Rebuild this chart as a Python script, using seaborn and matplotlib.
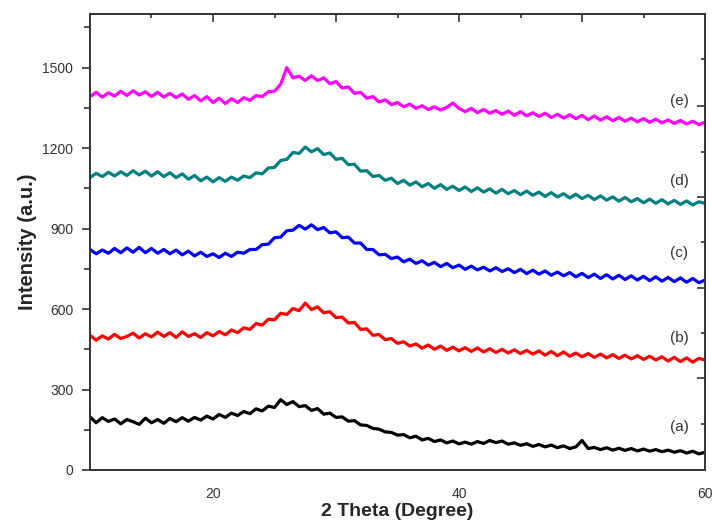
import numpy as np
import pandas as pd
import matplotlib
matplotlib.use('Agg')
import matplotlib.pyplot as plt
import seaborn as sns

# 2theta sampling grid (degrees)
two_theta = np.arange(10.0, 60.01, 0.5)

# intensities (a.u.), one list per sample
sample_a = [198, 176, 195, 181, 190, 172, 188, 180, 170, 193,
            176, 188, 174, 192, 180, 195, 182, 196, 186, 201,
            190, 207, 196, 212, 203, 218, 210, 228, 220, 238,
            233, 262, 244, 255, 236, 240, 222, 229, 208, 212,
            196, 198, 182, 184, 168, 166, 155, 152, 142, 140,
            130, 132, 120, 126, 112, 118, 106, 112, 101, 108,
            97, 104, 96, 106, 99, 110, 102, 108, 96, 101,
            92, 98, 88, 95, 86, 93, 83, 90, 80, 86,
            110, 80, 84, 76, 83, 74, 81, 73, 80, 71,
            78, 70, 76, 68, 74, 66, 72, 63, 70, 60,
            66]
sample_b = [502, 484, 500, 488, 506, 490, 498, 510, 492, 508,
            496, 514, 498, 512, 494, 515, 498, 508, 494, 512,
            500, 516, 504, 522, 512, 530, 524, 546, 540, 562,
            560, 584, 580, 602, 594, 622, 598, 608, 586, 590,
            568, 570, 548, 550, 524, 526, 502, 505, 486, 490,
            472, 478, 462, 470, 454, 466, 450, 462, 446, 458,
            444, 456, 442, 455, 440, 452, 438, 450, 436, 448,
            434, 446, 432, 444, 428, 442, 426, 440, 424, 436,
            422, 434, 420, 432, 418, 430, 416, 428, 414, 426,
            412, 424, 410, 422, 406, 420, 404, 418, 402, 416,
            410]
sample_c = [822, 806, 820, 808, 826, 810, 828, 812, 830, 810,
            826, 808, 822, 806, 820, 802, 816, 798, 812, 796,
            806, 792, 808, 796, 812, 808, 822, 822, 840, 842,
            866, 868, 892, 894, 912, 898, 914, 896, 904, 884,
            888, 866, 868, 846, 846, 822, 822, 802, 804, 788,
            794, 776, 786, 770, 780, 764, 774, 758, 770, 754,
            764, 748, 760, 746, 756, 742, 754, 740, 750, 736,
            748, 732, 745, 730, 742, 726, 738, 724, 736, 720,
            733, 717, 730, 714, 728, 712, 726, 710, 724, 708,
            722, 706, 720, 704, 718, 702, 716, 700, 714, 698,
            708]
sample_d = [1090, 1106, 1094, 1110, 1096, 1112, 1098, 1116, 1100, 1114,
            1096, 1112, 1094, 1108, 1090, 1104, 1084, 1098, 1078, 1092,
            1074, 1090, 1076, 1092, 1080, 1096, 1090, 1108, 1104, 1126,
            1128, 1154, 1158, 1184, 1180, 1204, 1186, 1198, 1176, 1182,
            1158, 1162, 1138, 1140, 1114, 1116, 1094, 1098, 1080, 1088,
            1068, 1080, 1062, 1074, 1056, 1068, 1050, 1064, 1046, 1058,
            1042, 1055, 1038, 1052, 1036, 1048, 1032, 1046, 1030, 1042,
            1026, 1040, 1024, 1036, 1020, 1034, 1018, 1030, 1014, 1028,
            1012, 1024, 1008, 1022, 1006, 1018, 1002, 1016, 1000, 1012,
            996, 1010, 994, 1008, 992, 1005, 990, 1003, 988, 1000,
            994]
sample_e = [1392, 1408, 1390, 1406, 1394, 1412, 1396, 1414, 1398, 1410,
            1392, 1408, 1390, 1404, 1388, 1402, 1382, 1396, 1376, 1392,
            1370, 1386, 1366, 1384, 1370, 1388, 1378, 1396, 1392, 1410,
            1412, 1438, 1500, 1462, 1468, 1452, 1470, 1452, 1462, 1440,
            1448, 1424, 1428, 1404, 1408, 1386, 1392, 1372, 1380, 1362,
            1370, 1354, 1364, 1348, 1358, 1344, 1354, 1342, 1352, 1368,
            1348, 1336, 1348, 1332, 1344, 1330, 1340, 1326, 1338, 1322,
            1336, 1320, 1332, 1318, 1330, 1314, 1326, 1312, 1324, 1310,
            1322, 1306, 1320, 1304, 1317, 1302, 1314, 1300, 1312, 1298,
            1310, 1296, 1308, 1294, 1305, 1292, 1303, 1290, 1300, 1288,
            1296]

sample_names = ['(a)', '(b)', '(c)', '(d)', '(e)']
sample_colors = ['#000000', '#ff0000', '#0000ff', '#008080', '#ff00ff']
label_y = [160, 491, 808, 1079, 1377]

# long-form table for seaborn
df = pd.concat([
    pd.DataFrame({'two_theta': two_theta, 'intensity': vals, 'sample': name})
    for name, vals in zip(sample_names, [sample_a, sample_b, sample_c, sample_d, sample_e])
])

sns.set_style('white')
plt.rcParams['font.family'] = ['Liberation Sans', 'DejaVu Sans']

fig = plt.figure(figsize=(7.12, 5.24), dpi=100)
ax = fig.add_axes([0.1264, 0.1031, 0.8638, 0.8702])

sns.lineplot(data=df, x='two_theta', y='intensity', hue='sample',
             palette=dict(zip(sample_names, sample_colors)),
             estimator=None, sort=False, legend=False, linewidth=2.3, ax=ax)

for name, y in zip(sample_names, label_y):
    ax.text(57.9, y, name, fontsize=11, color='#333333', ha='center', va='center')

ax.set_xlim(10, 60)
ax.set_ylim(0, 1700)
ax.set_xticks([10, 20, 30, 40, 50, 60])
ax.set_xticklabels(['', '20', '', '40', '', '60'])
ax.set_yticks([0, 300, 600, 900, 1200, 1500])
ax.set_yticks([150, 450, 750, 1050, 1350, 1650], minor=True)
ax.tick_params(axis='both', which='major', direction='out', length=6, width=1.2,
               labelsize=10, labelcolor='#333333', color='#333333', pad=6)
ax.tick_params(axis='y', which='minor', direction='out', length=4, width=1.2,
               color='#333333', left=True)
ax.set_xlabel('2 Theta (Degree)', fontsize=14, fontweight='bold', labelpad=2)
ax.set_ylabel('Intensity (a.u.)', fontsize=14.5, fontweight='bold', labelpad=4)
for sp in ax.spines.values():
    sp.set_linewidth(1.4)
    sp.set_color('#333333')

# Origin-style inward ticks on the top and right frame
top = ax.secondary_xaxis('top')
top.set_xticks([20, 30, 40, 50])
top.set_xticks([15, 25, 35, 45, 55], minor=True)
top.tick_params(which='major', direction='in', length=6, width=1.2, color='#333333', labeltop=False)
top.tick_params(which='minor', direction='in', length=3, width=1.2, color='#333333')
top.spines['top'].set_visible(False)

right = ax.twinx()
right.set_ylim(0, 1700)
right.set_yticks([342, 677, 1016, 1358])
right.set_yticks([171, 510, 849, 1187, 1533], minor=True)
right.tick_params(which='major', direction='in', length=6, width=1.2, color='#333333', labelright=False)
right.tick_params(which='minor', direction='in', length=3, width=1.2, color='#333333', right=True)
for sp in right.spines.values():
    sp.set_visible(False)

fig.savefig('out.png', dpi=100)
